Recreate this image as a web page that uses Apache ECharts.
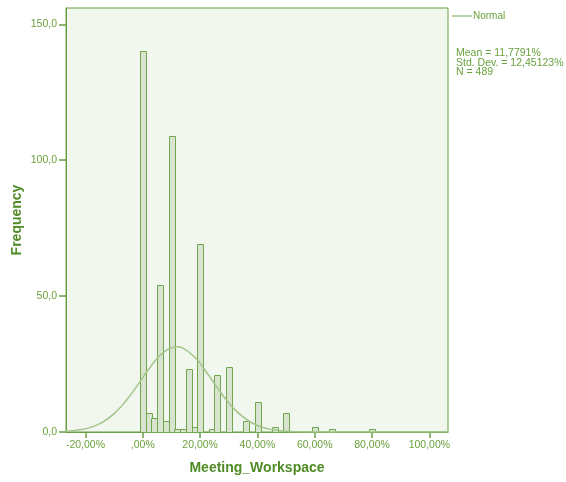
<!DOCTYPE html>
<html>
<head>
<meta charset="utf-8">
<script src="https://cdn.jsdelivr.net/npm/echarts@6/dist/echarts.min.js"></script>
<style>html,body{margin:0;padding:0;background:#fff}#c{width:566px;height:482px}</style>
</head>
<body>
<div id="c"></div>
<script>
// Histogram bins (centre of each 2%-wide bin, in %) and frequencies
const binCenters = [0, 2, 4, 6, 8, 10, 12, 14, 16, 18, 20, 24, 26, 30, 36, 40, 46, 50, 60, 66, 80];
const frequencies = [140, 7, 5, 54, 4, 109, 1, 1, 23, 2, 69, 1, 21, 24, 4, 11, 2, 7, 2, 1, 1];
const binWidth = 2;

// Normal curve points
const curveX = [-26.8, -22, -18, -14, -10, -6, -2, 2, 6, 10, 12, 14, 18, 22, 26, 30, 34, 38, 42, 46, 50, 54, 58, 62, 70, 80, 90, 100, 106.5];
const curveY = [0.27, 0.79, 1.79, 3.67, 6.78, 11.3, 16.99, 23.02, 28.13, 31.02, 31.33, 30.84, 27.66, 22.37, 16.32, 10.74, 6.37, 3.41, 1.65, 0.72, 0.28, 0.1, 0.03, 0.01, 0, 0, 0, 0, 0];

const xTicks = [-20, 0, 20, 40, 60, 80, 100];
const yTicks = [0, 50, 100, 150];
const statsLines = ['Mean = 11,7791%', 'Std. Dev. = 12,45123%', 'N = 489'];

const green = '#6a9e42';
const textGreen = '#69a13c';
const titleGreen = '#4f8c25';
const font = 'Liberation Sans, Arial, sans-serif';

const chart = echarts.init(document.getElementById('c'), null, {renderer: 'canvas'});
chart.setOption({
  animation: false,
  backgroundColor: '#ffffff',
  grid: {
    left: 66, top: 8, right: 118, bottom: 50,
    outerBoundsMode: 'none', containLabel: false,
    show: true, backgroundColor: '#f1f6ef', borderColor: green, borderWidth: 1
  },
  legend: {
    data: ['Normal'],
    left: 447, top: 6,
    icon: 'rect', itemWidth: 20, itemHeight: 1.5, itemGap: 2,
    textStyle: {color: textGreen, fontSize: 10, fontFamily: font, padding: [0, 0, 0, -4]}
  },
  graphic: [{
    type: 'text', left: 456, top: 48,
    style: {text: statsLines.join('\n'), lineHeight: 9.5, fill: textGreen, fontSize: 10.5, fontFamily: font}
  }],
  xAxis: {
    type: 'value', min: -26.8, max: 106.5,
    name: 'Meeting_Workspace', nameLocation: 'middle', nameGap: 29, nameMoveOverlap: false,
    nameTextStyle: {color: titleGreen, fontSize: 14, fontWeight: 'bold', fontFamily: font},
    axisLine: {show: true, onZero: false, lineStyle: {color: green}},
    axisTick: {show: true, customValues: xTicks, length: 6, lineStyle: {color: green, width: 1.5}},
    axisLabel: {
      customValues: xTicks, color: textGreen, fontSize: 10.5, fontFamily: font, margin: 8,
      formatter: v => v === 0 ? ',00%' : v.toFixed(2).replace('.', ',') + '%'
    },
    splitLine: {show: false}
  },
  yAxis: {
    type: 'value', min: 0, max: 156,
    name: 'Frequency', nameLocation: 'middle', nameGap: 42, nameRotate: 90, nameMoveOverlap: false,
    nameTextStyle: {color: titleGreen, fontSize: 14, fontWeight: 'bold', fontFamily: font},
    axisLine: {show: true, onZero: false, lineStyle: {color: green}},
    axisTick: {show: true, customValues: yTicks, length: 7, lineStyle: {color: green, width: 1.5}},
    axisLabel: {
      customValues: yTicks, color: textGreen, fontSize: 10.5, fontFamily: font, margin: 9,
      formatter: v => v.toFixed(1).replace('.', ',')
    },
    splitLine: {show: false}
  },
  series: [
    {
      type: 'custom',
      name: 'Histogram',
      data: binCenters.map((c, i) => [c, frequencies[i]]),
      renderItem: function (params, api) {
        const x = api.value(0), y = api.value(1);
        const p0 = api.coord([x - binWidth / 2, y]);
        const p1 = api.coord([x + binWidth / 2, 0]);
        return {
          type: 'rect',
          shape: {x: Math.round(p0[0]) + 0.5, y: Math.round(p0[1]) + 0.5, width: Math.round(p1[0] - p0[0]), height: Math.round(p1[1] - p0[1])},
          style: {fill: '#d9e4d0', stroke: '#72a64e', lineWidth: 1}
        };
      },
      z: 2
    },
    {
      type: 'line',
      name: 'Normal',
      data: curveX.map((x, i) => [x, curveY[i]]),
      smooth: true,
      symbol: 'none',
      lineStyle: {color: '#a2c68a', width: 1.5},
      itemStyle: {color: '#a2c68a'},
      z: 3
    }
  ]
});
</script>
</body>
</html>
